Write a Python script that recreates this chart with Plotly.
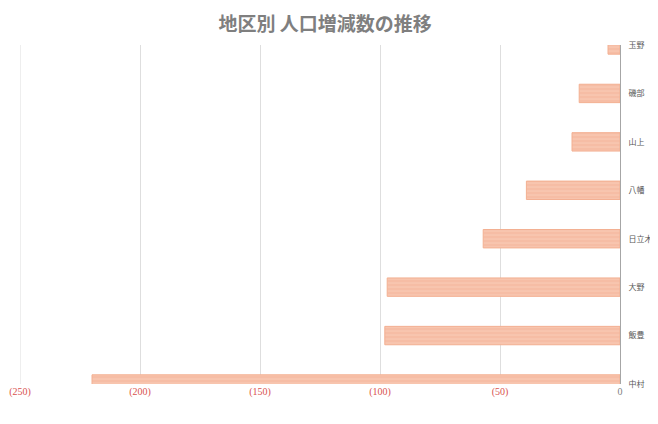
import plotly.graph_objects as go

# 地区別 人口増減数
districts = ['中村', '飯豊', '大野', '日立木', '八幡', '山上', '磯部', '玉野']
changes = [-220, -98, -97, -57, -39, -20, -17, -5]

x_ticks = [-250, -200, -150, -100, -50, 0]
x_tick_labels = ['(250)', '(200)', '(150)', '(100)', '(50)', '0']

positions = list(range(len(districts)))

fig = go.Figure()

fig.add_trace(go.Bar(
    x=changes,
    y=positions,
    orientation='h',
    width=0.38,
    marker=dict(
        color='#f6bda5',
        line=dict(color='#f3b092', width=1),
        pattern=dict(shape='-', fgcolor='#fad5c3', size=4, solidity=0.3),
    ),
    hovertemplate='<b>%{text}</b><br>%{x}<extra></extra>',
    text=districts,
    textposition='none',
    showlegend=False,
))

tick_text = []
for v, lab in zip(x_ticks, x_tick_labels):
    color = '#d9534f' if v < 0 else '#7f7f7f'
    tick_text.append(f'<span style="color:{color}">{lab}</span>')

# page is drawn with an 8px body margin, keep the figure inside the window
fig.update_layout(
    width=650,
    height=408,
    margin=dict(l=12, r=38, t=37, b=32, autoexpand=False),
    paper_bgcolor='white',
    plot_bgcolor='white',
    title=dict(
        text='<b>地区別 人口増減数の推移</b>',
        x=0.488,
        xanchor='center',
        y=0.96,
        yanchor='middle',
        font=dict(family='Noto Sans CJK JP', size=19, color='#7f7f7f'),
    ),
    xaxis=dict(
        range=[-250, 0],
        tickvals=x_ticks,
        ticktext=tick_text,
        tickfont=dict(family='Liberation Serif, Noto Sans CJK JP', size=10),
        showgrid=True,
        gridcolor='#dedede',
        gridwidth=1,
        zeroline=False,
        showline=False,
        ticks='',
        automargin=False,
    ),
    yaxis=dict(
        range=[0, 7],
        tickvals=positions,
        ticktext=districts,
        side='right',
        tickfont=dict(family='Noto Sans CJK JP', size=8, color='#595959'),
        showgrid=False,
        zeroline=False,
        showline=True,
        linecolor='#a6a6a6',
        linewidth=1,
        ticks='',
        ticklabelstandoff=6,
        automargin=False,
    ),
    shapes=[
        # gridline on the left edge of the plot
        dict(type='line', xref='x', yref='paper',
             x0=-250, x1=-250, y0=0, y1=1, layer='below',
             line=dict(color='#dedede', width=1)),
    ],
)

fig.write_html('out.html')
